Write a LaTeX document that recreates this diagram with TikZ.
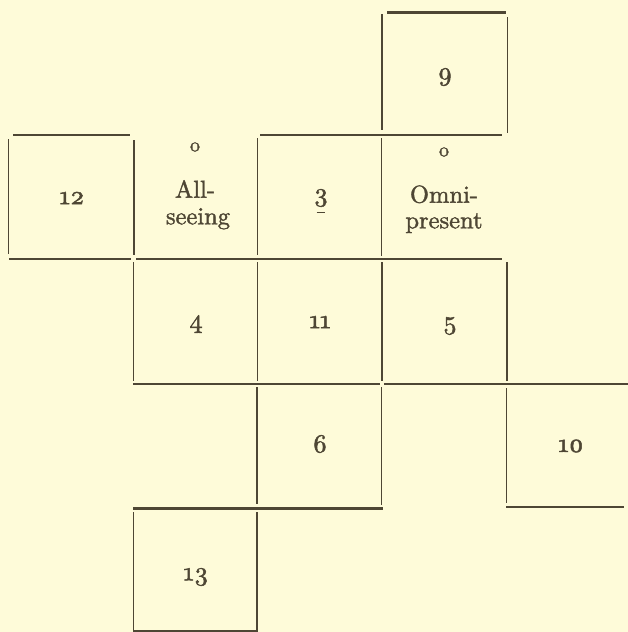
\documentclass[tikz,border=0pt]{standalone}
\definecolor{paper}{RGB}{254,251,217}
\definecolor{ink}{RGB}{78,70,52}
\font\numfont="[lmroman10-regular]:+onum;embolden=1.8" at 26pt
\font\wordfont="[lmroman10-regular]:mapping=tex-text;embolden=1.5" at 24.5pt
\font\ofont="[lmroman10-regular]:embolden=1.5" at 20pt
\begin{document}
\begin{tikzpicture}[x=1pt,y=-1pt,
  hline/.style={draw=ink,line width=2.1pt},
  vline/.style={draw=ink,line width=1.7pt},
  num/.style={text=ink,inner sep=0pt,font=\numfont},
  word/.style={text=ink,inner sep=0pt,font=\wordfont,anchor=base},
  smallo/.style={text=ink,inner sep=0pt,font=\ofont}]
\fill[paper] (0,0) rectangle (628,632);
\useasboundingbox (0,0) rectangle (628,632);
% horizontal rules
\draw[hline] (387,12.5) -- (506,12.5);
\draw[hline] (13,135) -- (130,135);
\draw[hline] (260,135) -- (502,135);
\draw[hline] (9,259) -- (131,259);
\draw[hline] (136,259) -- (502,259);
\draw[hline] (133,384) -- (380,384);
\draw[hline] (384,384) -- (628,384);
\draw[hline] (133,508.5) -- (383,508.5);
\draw[hline] (506,507) -- (624,507);
\draw[hline] (133,631) -- (257,631);
% vertical rules
\draw[vline] (382,14) -- (382,130);
\draw[vline] (507.5,17) -- (507.5,133);
\draw[vline] (8.5,139) -- (8.5,254);
\draw[vline] (134,140) -- (134,255);
\draw[vline] (257.5,138) -- (257.5,255);
\draw[vline] (381.5,138) -- (381.5,256);
\draw[vline] (133.5,262) -- (133.5,381);
\draw[vline] (257.5,262) -- (257.5,381);
\draw[vline] (382,262) -- (382,381);
\draw[vline] (507,262) -- (507,381);
\draw[vline] (257,387) -- (257,504);
\draw[vline] (381.5,387) -- (381.5,505);
\draw[vline] (506.5,388) -- (506.5,503);
\draw[vline] (133.5,512) -- (133.5,632);
\draw[vline] (257,512) -- (257,632);
% numbers
\node[num] (n9)  at (445,77)  {9};
\node[num] (n12) at (72,198)  {12};
\node[num] (n3)  at (321,198) {3};
\node[num] (n4)  at (196,324) {4};
\node[num] (n11) at (320,322) {11};
\node[num] (n5)  at (450,326) {5};
\node[num] (n6)  at (320,444) {6};
\node[num] (n10) at (571,446) {10};
\node[num] (n13) at (196,577) {13};
\coordinate (d1) at (316.5,212.5);
\coordinate (d2) at (324.5,212.5);
\draw[ink,line width=1.1pt] (d1) -- (d2);
% words
\node[smallo] (oa) at (195,147) {o};
\node[word] (alla) at (195,197.7) {All-};
\node[word] (allb) at (198,224.3) {seeing};
\node[smallo] (ob) at (444,152) {o};
\node[word] (omna) at (444,202.7) {Omni-};
\node[word] (omnb) at (444,228.3) {present};
\end{tikzpicture}
\end{document}
